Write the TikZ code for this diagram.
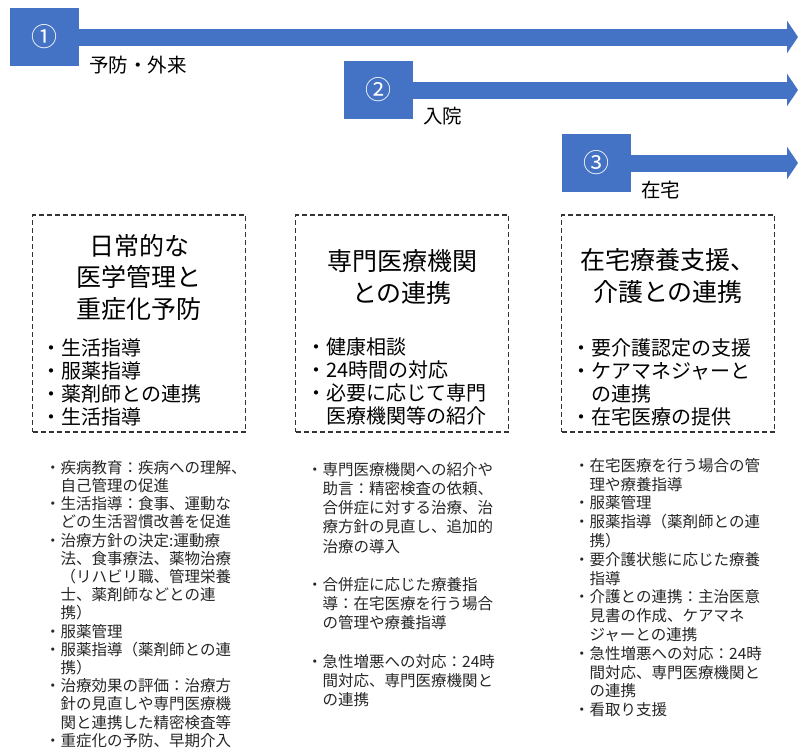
\documentclass[tikz,border=0pt]{standalone}
\usepackage{fontspec}
\setmainfont{Noto Sans CJK JP}
\usetikzlibrary{arrows.meta}
\usetikzlibrary{positioning}
\definecolor{stageblue}{HTML}{4472C4}

\begin{document}
\begin{tikzpicture}[x=1pt,y=-1pt,
  stage/.style={fill=stageblue,minimum width=69pt,minimum height=58pt,inner sep=0pt,text=white,font=\fontsize{26}{30}\selectfont},
  flow/.style={draw=stageblue,line width=17pt,-{Triangle[length=11pt,width=32pt]}},
  phase/.style={inner sep=0pt,anchor=west,font=\fontsize{19.5}{23}\selectfont},
  frame/.style={draw=black!80,line width=1.5pt,dash pattern=on 5pt off 3pt,minimum width=213pt,minimum height=217pt,inner sep=0pt},
  head/.style={align=center,inner sep=0pt,font=\fontsize{25}{31.5}\selectfont},
  points/.style={align=left,inner sep=0pt,anchor=north west,font=\fontsize{20}{23.3}\selectfont},
  notes/.style={align=left,inner sep=0pt,anchor=north west,text=black!85}]

\useasboundingbox (0,0) rectangle (798,755);

\coordinate (edge) at (798,0);

\node[stage] (s1) at (44.5,37) {①};
\node[stage] (s2) at (378,90) {②};
\node[stage] (s3) at (596.5,163) {③};

\draw[flow] (s1.east) -- (s1.east -| edge);
\draw[flow] (s2.east) -- (s2.east -| edge);
\draw[flow] (s3.east) -- (s3.east -| edge);

\node[phase] (p1) at (89,65) {予防・外来};
\node[phase] (p2) at (423,116) {入院};
\node[phase] (p3) at (641,190) {在宅};

\node[frame] (b1) at (139,323.5) {};
\node[frame] (b2) at (402,323.5) {};
\node[frame] (b3) at (668,323.5) {};

\node[head] (t1) at (139,277) {日常的な\\医学管理と\\重症化予防};
\node[head] (t2) at (402,277) {専門医療機関\\との連携};
\node[head] (t3) at (668,276) {在宅療養支援、\\介護との連携};

\node[points] (k1) at (41,338) {・生活指導\\・服薬指導\\・薬剤師との連携\\・生活指導};
\node[points] (k2) at (306,337) {・健康相談\\・24時間の対応\\・必要に応じて専門\\　医療機関等の紹介};
\node[points] (k3) at (571,338) {・要介護認定の支援\\・ケアマネジャーと\\　の連携\\・在宅医療の提供};

\node[notes,font=\fontsize{15.5}{18.2}\selectfont] (n1) at (45,460) {・疾病教育：疾病への理解、\\　自己管理の促進\\・生活指導：食事、運動な\\　どの生活習慣改善を促進\\・治療方針の決定:運動療\\　法、食事療法、薬物治療\\　（リハビリ職、管理栄養\\　士、薬剤師などとの連\\　携）\\・服薬管理\\・服薬指導（薬剤師との連\\　携）\\・治療効果の評価：治療方\\　針の見直しや専門医療機\\　関と連携した精密検査等\\・重症化の予防、早期介入};
\node[notes,font=\fontsize{15.5}{19.2}\selectfont] (n2) at (307,462) {・専門医療機関への紹介や\\　助言：精密検査の依頼、\\　合併症に対する治療、治\\　療方針の見直し、追加的\\　治療の導入\\[19.2pt]・合併症に応じた療養指\\　導：在宅医療を行う場合\\　の管理や療養指導\\[19.2pt]・急性増悪への対応：24時\\　間対応、専門医療機関と\\　の連携};
\node[notes,font=\fontsize{15.5}{18.8}\selectfont] (n3) at (574,458) {・在宅医療を行う場合の管\\　理や療養指導\\・服薬管理\\・服薬指導（薬剤師との連\\　携）\\・要介護状態に応じた療養\\　指導\\・介護との連携：主治医意\\　見書の作成、ケアマネ\\　ジャーとの連携\\・急性増悪への対応：24時\\　間対応、専門医療機関と\\　の連携\\・看取り支援};
\end{tikzpicture}
\end{document}
